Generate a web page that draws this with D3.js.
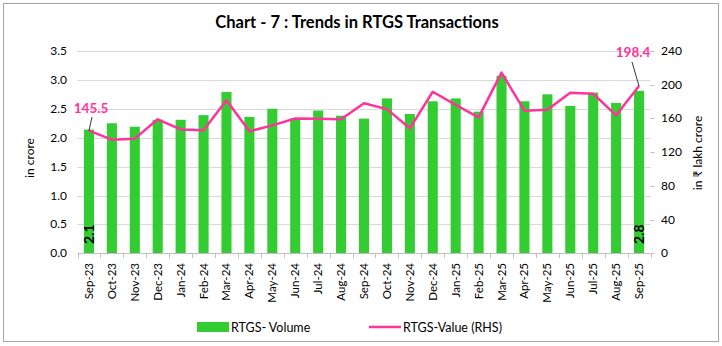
<!DOCTYPE html>
<html><head><meta charset="utf-8">
<script src="https://cdn.jsdelivr.net/npm/d3@7"></script>
<style>body{margin:0;background:#fff}svg{display:block}text{font-family:Lato,"Open Sans",sans-serif}</style>
</head><body>
<svg id="c" width="722" height="346"></svg>
<script>
const months = ["Sep-23","Oct-23","Nov-23","Dec-23","Jan-24","Feb-24","Mar-24","Apr-24","May-24","Jun-24","Jul-24","Aug-24","Sep-24","Oct-24","Nov-24","Dec-24","Jan-25","Feb-25","Mar-25","Apr-25","May-25","Jun-25","Jul-25","Aug-25","Sep-25"];
const volume = [2.14,2.25,2.19,2.31,2.31,2.39,2.79,2.36,2.50,2.33,2.47,2.38,2.33,2.68,2.41,2.63,2.68,2.45,3.07,2.63,2.75,2.55,2.78,2.60,2.81];
const value = [145.5,134.8,136.0,159.0,147.0,146.0,181.5,144.7,151.8,160.0,159.7,159.0,178.0,171.0,148.3,191.7,176.0,161.3,214.3,169.2,170.4,190.5,189.3,163.7,198.4];
const leftTicks = [0,0.5,1,1.5,2,2.5,3,3.5];
const rightTicks = [0,40,80,120,160,200,240];
const title = "Chart - 7 : Trends in RTGS Transactions";

const svg = d3.select("#c");
const L = 77.5, R = 650.5, T = 51, B = 253.3;
const x = d3.scaleBand().domain(months).range([L, R]).paddingInner(0.56).paddingOuter(0.28);
const yL = d3.scaleLinear().domain([0, 3.5]).range([B, T]);
const yR = d3.scaleLinear().domain([0, 240]).range([B, T]);
const green = "#33cc33", pink = "#ff3399";

svg.append("rect").attr("x",3.5).attr("y",3.5).attr("width",715).attr("height",338)
  .attr("fill","#fff").attr("stroke","#a6a6a6").attr("stroke-width",1);

svg.append("text").attr("x",357).attr("y",28).attr("text-anchor","middle")
  .attr("font-size",16.5).attr("font-weight","bold").attr("fill","#000").text(title);

// gridlines
svg.append("g").selectAll("line").data(leftTicks.slice(1)).join("line")
  .attr("x1",L).attr("x2",R).attr("y1",d=>Math.round(yL(d))+0.5).attr("y2",d=>Math.round(yL(d))+0.5)
  .attr("stroke","#d9d9d9").attr("stroke-width",1);

// left axis labels
svg.append("g").selectAll("text").data(leftTicks).join("text")
  .attr("x",67).attr("y",d=>yL(d)+4).attr("text-anchor","end").attr("font-size",12).attr("fill","#000")
  .text(d=>d3.format(".1f")(d));
// right axis labels
svg.append("g").selectAll("text").data(rightTicks).join("text")
  .attr("x",661).attr("y",d=>yR(d)+4).attr("text-anchor","start").attr("font-size",12).attr("fill","#000")
  .text(d=>d);
svg.append("g").selectAll("line").data(rightTicks).join("line")
  .attr("x1",R).attr("x2",R+4).attr("y1",d=>Math.round(yR(d))+0.5).attr("y2",d=>Math.round(yR(d))+0.5)
  .attr("stroke","#bfbfbf");

// axis titles
svg.append("text").attr("transform","translate(34,158) rotate(-90)").attr("text-anchor","middle")
  .attr("font-size",12).attr("fill","#000").text("in crore");
svg.append("text").attr("transform","translate(702,153) rotate(-90)").attr("text-anchor","middle")
  .attr("font-size",12).attr("fill","#000").text("in \u20b9 lakh crore");

// bars
svg.append("g").selectAll("rect").data(months).join("rect")
  .attr("x",(d)=>x(d)).attr("width",x.bandwidth())
  .attr("y",(d,i)=>yL(volume[i])).attr("height",(d,i)=>B-yL(volume[i]))
  .attr("fill",green);

// x axis
svg.append("line").attr("x1",L).attr("x2",R).attr("y1",253.5).attr("y2",253.5).attr("stroke","#bfbfbf");
const bounds = d3.range(months.length+1).map(i=>L + i*(R-L)/months.length);
svg.append("g").selectAll("line").data(bounds).join("line")
  .attr("x1",d=>Math.round(d)+0.5).attr("x2",d=>Math.round(d)+0.5).attr("y1",253).attr("y2",258)
  .attr("stroke","#bfbfbf");
svg.append("g").selectAll("text").data(months).join("text")
  .attr("transform",d=>`translate(${x(d)+x.bandwidth()/2+4},263) rotate(-90)`)
  .attr("text-anchor","end").attr("font-size",11.5).attr("fill","#000").text(d=>d);

// line
const line = d3.line().x((d,i)=>x(months[i])+x.bandwidth()/2).y(d=>yR(d));
svg.append("path").datum(value).attr("d",line).attr("fill","none")
  .attr("stroke",pink).attr("stroke-width",2.5).attr("stroke-linejoin","round");

// bar labels first/last
[0, months.length-1].forEach(i=>{
  svg.append("text").attr("transform",`translate(${x(months[i])+x.bandwidth()/2+5},244) rotate(-90)`)
    .attr("text-anchor","start").attr("font-size",14).attr("font-weight","bold").attr("fill","#000")
    .text(d3.format(".1f")(volume[i]));
});

// value annotations
const cx = i => x(months[i])+x.bandwidth()/2;
svg.append("line").attr("x1",92).attr("y1",117).attr("x2",cx(0)).attr("y2",yR(value[0])).attr("stroke","#000").attr("stroke-width",0.8);
svg.append("text").attr("x",91).attr("y",113).attr("text-anchor","middle").attr("font-size",13.5).attr("font-weight","bold")
  .attr("fill",pink).text(value[0].toFixed(1));
const n = months.length-1;
svg.append("line").attr("x1",632).attr("y1",62).attr("x2",cx(n)).attr("y2",yR(value[n])).attr("stroke","#000").attr("stroke-width",0.8);
svg.append("text").attr("x",633).attr("y",57).attr("text-anchor","middle").attr("font-size",13.5).attr("font-weight","bold")
  .attr("fill",pink).text(value[n].toFixed(1));

// legend
svg.append("rect").attr("x",197).attr("y",322).attr("width",32).attr("height",10).attr("fill",green);
svg.append("text").attr("x",231).attr("y",331.5).attr("font-size",12.5).attr("fill","#000").text("RTGS- Volume");
svg.append("line").attr("x1",369).attr("x2",401).attr("y1",327).attr("y2",327).attr("stroke",pink).attr("stroke-width",2.5);
svg.append("text").attr("x",403).attr("y",331.5).attr("font-size",12.5).attr("fill","#000").text("RTGS-Value (RHS)");
</script>
</body></html>
